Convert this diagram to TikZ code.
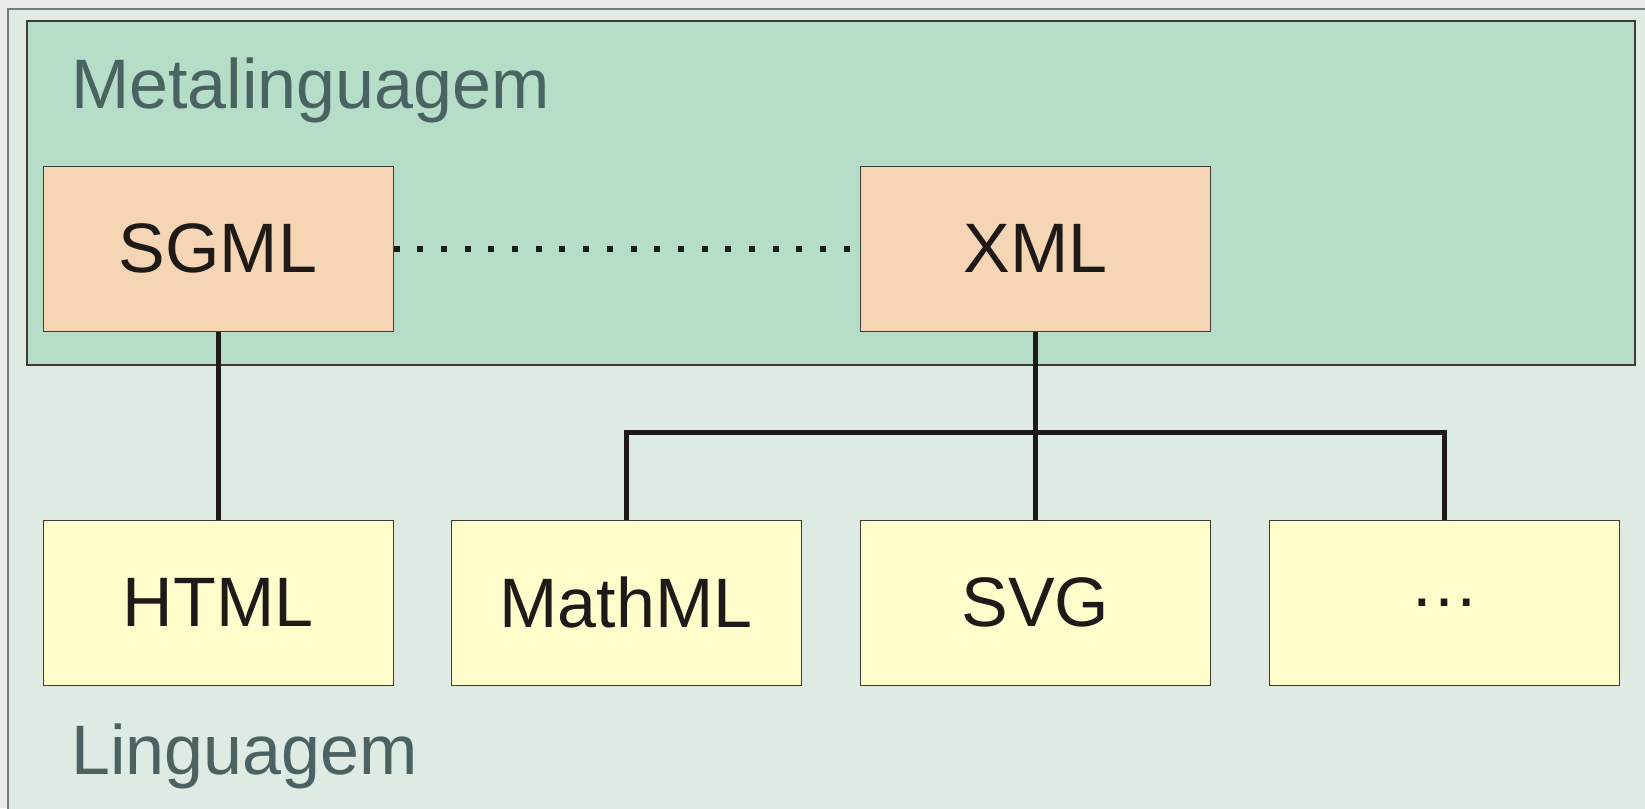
\documentclass[tikz,border=0pt]{standalone}
\usepackage{fontspec}
\setmainfont{Liberation Sans}
\definecolor{pagebg}{HTML}{EBEBEA}
\definecolor{outerfill}{HTML}{DDEBE2}
\definecolor{outerline}{HTML}{7A7A7A}
\definecolor{metafill}{HTML}{B6DDC8}
\definecolor{metafill2}{HTML}{B6DDC8}
\definecolor{boxline}{HTML}{3C3C34}
\definecolor{metabox}{HTML}{F5D5B4}
\definecolor{langbox}{HTML}{FFFDCC}
\definecolor{labelcol}{HTML}{4A6262}
\definecolor{ink}{HTML}{1E1A17}
\tikzset{
  x=1pt, y=-1pt,
  bigtext/.style={font=\fontsize{70}{84}\selectfont},
  langbox/.style={draw=boxline, line width=1pt, fill=langbox, minimum width=350pt,
    minimum height=165pt, inner sep=0pt, text=ink, bigtext},
  metabox/.style={langbox, fill=metabox},
  arealabel/.style={anchor=base west, text=labelcol, inner sep=0pt, bigtext},
  conn/.style={draw=ink, line width=5pt, line join=miter},
  dotconn/.style={draw=ink, line width=6pt, dash pattern=on 6pt off 17.7pt},
}
\begin{document}
\begin{tikzpicture}
  \useasboundingbox (0,0) rectangle (1645,808);
  \clip (0,0) rectangle (1645,808);
  \fill[pagebg] (0,0) rectangle (1645,808);
  % outer region (Linguagem)
  \filldraw[fill=outerfill, draw=outerline, line width=2pt] (8,9) rectangle (1660,830);
  % inner region (Metalinguagem)
  \filldraw[fill=metafill, draw=boxline, line width=1.2pt] (27,21) rectangle (1635,365);

  \node[arealabel] (metalabel) at (71,108) {Metalinguagem};
  \node[arealabel] (langlabel) at (71,774) {Linguagem};

  % meta-languages
  \node[metabox] (sgml) at (218,248.5) {SGML};
  \node[metabox] (xml) at (1035.5,248.5) {XML};

  % languages
  \node[langbox] (html) at (218,602.5) {HTML};
  \node[langbox] (mathml) at (626,602.5) {MathML};
  \node[langbox] (svg) at (1035.5,602.5) {SVG};
  \node[langbox] (more) at (1444.5,602.5) {…};

  \coordinate (bar) at (0,432);

  \draw[dotconn] (sgml.east) -- (xml.west);
  \draw[conn] (sgml.south) -- (html.north);
  \draw[conn] (xml.south) -- (svg.north);
  \draw[conn] (mathml.north) |- (more.north |- bar) -- (more.north);
\end{tikzpicture}
\end{document}
